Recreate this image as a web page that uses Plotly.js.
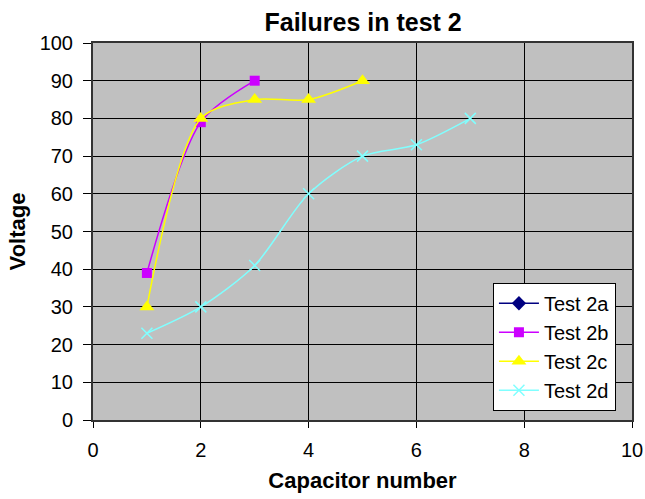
<!DOCTYPE html>
<html><head><meta charset="utf-8">
<script src="https://cdn.plot.ly/plotly-3.0.1.min.js"></script>
<style>html,body{margin:0;padding:0;background:#fff}#chart{width:645px;height:499px}</style>
</head><body><div id="chart"></div>
<script>
const seriesNames = ["Test 2a", "Test 2b", "Test 2c", "Test 2d"];
const test2aX = [null];
const test2aY = [null];
const test2bX = [1, 2, 3];
const test2bY = [39, 79, 90];
const test2cX = [1, 2, 3, 4, 5];
const test2cY = [30, 80, 85, 85, 90];
const test2dX = [1, 2, 3, 4, 5, 6, 7];
const test2dY = [23, 30, 41, 60, 70, 73, 80];

const mk = (name, x, y, color, symbol, size) => ({
  type: 'scatter', mode: 'lines+markers', name, x, y,
  line: {color, width: 1.5, shape: 'spline', smoothing: 0.8},
  marker: {color, symbol, size, line: {color, width: symbol === 'x-thin' ? 1.5 : 0}}
});
const data = [
  mk(seriesNames[0], test2aX, test2aY, '#000080', 'diamond', 11),
  mk(seriesNames[1], test2bX, test2bY, '#cc00ff', 'square', 10),
  mk(seriesNames[2], test2cX, test2cY, '#ffff00', 'triangle-up', 13),
  mk(seriesNames[3], test2dX, test2dY, '#80ffff', 'x-thin', 11)
];
const layout = {
  width: 645, height: 499,
  margin: {l: 93, r: 13, t: 43, b: 79},
  paper_bgcolor: '#ffffff', plot_bgcolor: '#c0c0c0',
  font: {family: 'Arial, Liberation Sans, sans-serif', size: 20, color: '#000'},
  title: {text: '<b>Failures in test 2</b>', font: {size: 25}, x: 0.563, xanchor: 'center', y: 0.955, yanchor: 'middle'},
  xaxis: {range: [0, 10], dtick: 2, showgrid: true, gridcolor: '#000', gridwidth: 1,
    showline: true, linecolor: '#333', linewidth: 2, mirror: true, zeroline: false,
    ticks: 'outside', ticklen: 6, tickcolor: '#000', ticklabelstandoff: 5,
    title: {text: '<b>Capacitor number</b>', font: {size: 22}, standoff: 13}},
  yaxis: {range: [0, 100], dtick: 10, showgrid: true, gridcolor: '#000', gridwidth: 1,
    showline: true, linecolor: '#333', linewidth: 2, mirror: true, zeroline: false,
    ticks: 'outside', ticklen: 8, tickcolor: '#000', ticklabelstandoff: 6,
    title: {text: '<b>Voltage</b>', font: {size: 22}, standoff: 8}},
  legend: {x: 0.742, y: 0.364, xanchor: 'left', yanchor: 'top', bgcolor: '#ffffff',
    bordercolor: '#000', borderwidth: 1, font: {size: 20}, itemwidth: 40, tracegroupgap: 0},
  showlegend: true
};
Plotly.newPlot('chart', data, layout, {displayModeBar: false, staticPlot: true});
</script></body></html>
